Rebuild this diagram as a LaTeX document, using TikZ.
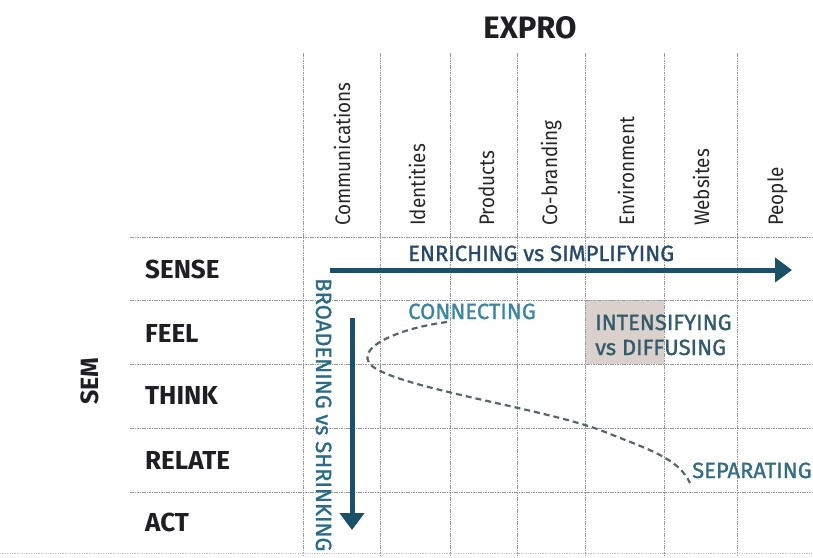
\documentclass[tikz,border=0pt]{standalone}
\usepackage{fontspec}
\setmainfont{Fira Sans}
\newfontfamily\colfont{Fira Sans}[FakeStretch=0.9]
\newfontfamily\medfont{Fira Sans}[FakeBold=1.2]
\usetikzlibrary{arrows.meta}
\definecolor{arrowc}{HTML}{1B5168}
\definecolor{tealA}{HTML}{284A6A}
\definecolor{tealB}{HTML}{3A86A0}
\definecolor{tealC}{HTML}{335B6B}
\definecolor{tealD}{HTML}{336E80}
\definecolor{tealE}{HTML}{2A6B85}
\definecolor{cellc}{HTML}{DAD1CC}
\definecolor{dashc}{HTML}{56666C}
\definecolor{darkt}{HTML}{1E1E24}
\tikzset{
  gridline/.style={draw=gray!80, line width=0.9pt, dash pattern=on 1.6pt off 0.8pt},
  rowlab/.style={inner sep=0pt, anchor=base west, font=\fontsize{26}{26}\selectfont\bfseries, text=darkt},
  collab/.style={inner sep=0pt, anchor=base west, rotate=90, font=\fontsize{21}{21}\colfont, text=black!85},
  tlab/.style={inner sep=0pt, anchor=base west, font=\fontsize{22}{22}\medfont},
  bigarrow/.style={draw=arrowc, line width=5pt, -{Triangle[length=17pt,width=24pt]}},
  dashcurve/.style={draw=dashc, line width=2.2pt, dash pattern=on 6pt off 4pt}
}
\begin{document}
\begin{tikzpicture}[x=1pt,y=-1pt]
\useasboundingbox (0,0) rectangle (813,557);
% shaded cell
\fill[cellc] (585,300) rectangle (664,364);
% grid
\foreach \yy in {237,300,364,428,492} \draw[gridline] (130,\yy) -- (813,\yy);
\foreach \xx in {303,380,450,517,585,664,737} \draw[gridline] (\xx,53) -- (\xx,557);
\draw[draw=gray!50, line width=0.8pt, dash pattern=on 1.2pt off 1.2pt] (0,553) -- (813,553);
% titles
\node[inner sep=0pt, anchor=base, font=\fontsize{31}{31}\selectfont\bfseries, text=darkt] (expro) at (530,38) {EXPRO};
\node[inner sep=0pt, anchor=center, rotate=90, font=\fontsize{25}{25}\selectfont\bfseries, text=darkt] (sem) at (90,381) {SEM};
% row labels
\node[rowlab] (sense) at (145,278) {SENSE};
\node[rowlab] (feel) at (145,342) {FEEL};
\node[rowlab] (think) at (145,404) {THINK};
\node[rowlab] (relate) at (145,469) {RELATE};
\node[rowlab] (act) at (145,531) {ACT};
% column labels
\node[collab] (c1) at (350,226) {Communications};
\node[collab] (c2) at (425,226) {Identities};
\node[collab] (c3) at (494,226) {Products};
\node[collab] (c4) at (557,226) {Co-branding};
\node[collab] (c5) at (634,226) {Environment};
\node[collab] (c6) at (709,226) {Websites};
\node[collab] (c7) at (783,226) {People};
% arrows
\coordinate (hs) at (330,270);
\coordinate (he) at (792,270);
\draw[bigarrow] (hs) -- (he);
\coordinate (vs) at (352,318);
\coordinate (ve) at (352,530);
\draw[bigarrow] (vs) -- (ve);
% labels
\node[tlab, text=tealA] (enrich) at (408,261) {ENRICHING vs SIMPLIFYING};
\node[tlab, text=tealB] (connect) at (408,319) {CONNECTING};
\node[tlab, text=tealC] (intens) at (595,330) {INTENSIFYING};
\node[tlab, text=tealC] (diffus) at (595,355) {vs DIFFUSING};
\node[tlab, text=tealD] (separ) at (692,478) {SEPARATING};
\node[tlab, text=tealE, rotate=-90] (broad) at (316,278) {BROADENING vs SHRINKING};
% dashed curve
\coordinate (ds) at (447,322);
\coordinate (de) at (690,483);
\draw[dashcurve] (ds) .. controls (400,328) and (352,348) .. (372,366)
  .. controls (400,388) and (540,408) .. (600,430)
  .. controls (650,450) and (678,458) .. (de);
\end{tikzpicture}
\end{document}
